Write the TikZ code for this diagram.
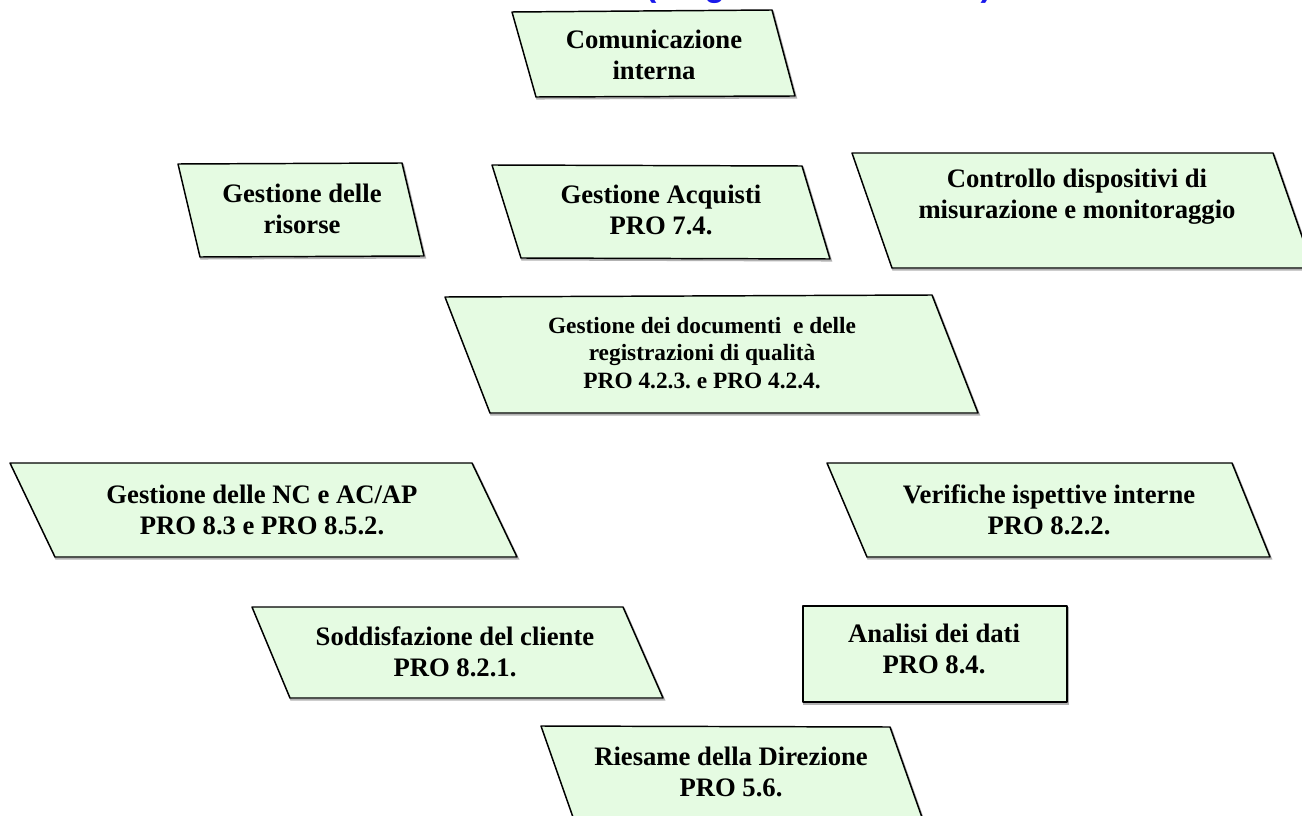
\documentclass[tikz,border=0pt]{standalone}
\usepackage{fontspec}
\setmainfont{Liberation Serif}
\setsansfont{Liberation Sans}
\definecolor{boxgreen}{RGB}{229,251,226}
\definecolor{titleblue}{RGB}{25,25,235}
\frenchspacing
\begin{document}
\begin{tikzpicture}[x=0.75pt,y=-0.75pt,
  procbox/.style={draw=black, line width=1.1pt, fill=boxgreen, line join=round,
    preaction={draw=black!30, line width=1.4pt, transform canvas={shift={(0.8pt,-1.2pt)}}}},
  proclabel/.style={font=\fontsize{20}{23.5}\selectfont\bfseries, align=center, inner sep=0pt},
  doclabel/.style={font=\fontsize{17.5}{20.8}\selectfont\bfseries, align=center, inner sep=0pt}]
\useasboundingbox (0,0) rectangle (1302,816);
\clip (0,0) rectangle (1302,816);

% heading, almost entirely above the page edge: only the descenders show
\node[anchor=south west, inner sep=0pt, text=titleblue,
      font=\sffamily\bfseries\fontsize{25}{30}\selectfont] (title) at (645,4) {(diagramma di flusso)};

% process shapes
\draw[procbox] (512,12) -- (772,10) -- (795,96) -- (536,97) -- cycle;
\draw[procbox] (178,164) -- (402,163) -- (424,256) -- (200,257) -- cycle;
\draw[procbox] (492,165) -- (802,166) -- (830,259) -- (521,258) -- cycle;
\draw[procbox] (852,153) -- (1273,153) -- (1313,268) -- (892,268) -- cycle;
\draw[procbox] (445,297) -- (932,295) -- (978,413) -- (490,413) -- cycle;
\draw[procbox] (10,463) -- (472,463) -- (517,557) -- (55,557) -- cycle;
\draw[procbox] (827,463) -- (1232,463) -- (1270,557) -- (867,557) -- cycle;
\draw[procbox] (252,607) -- (623,607) -- (663,698) -- (290,698) -- cycle;
\draw[procbox] (803,606) rectangle (1067,702);
\draw[procbox] (541,726) -- (890,727) -- (930,840) -- (581,840) -- cycle;

% labels
\node[proclabel] (com) at (654,55) {Comunicazione\\interna};
\node[proclabel] (ris) at (302,209) {Gestione delle\\risorse};
\node[proclabel] (acq) at (661,210) {Gestione Acquisti\\PRO 7.4.};
\node[proclabel] (con) at (1077,197) {Controllo dispositivi di\\misurazione e monitoraggio};
\node[doclabel] (doc) at (702,353) {Gestione dei documenti\ \ e delle\\registrazioni di qualità\\PRO 4.2.3. e PRO 4.2.4.};
\node[proclabel] (nc) at (262,510) {Gestione delle NC e AC/AP\\PRO 8.3 e PRO 8.5.2.};
\node[proclabel] (ver) at (1049,510) {Verifiche ispettive interne\\PRO 8.2.2.};
\node[proclabel] (sod) at (455,652) {Soddisfazione del cliente\\PRO 8.2.1.};
\node[proclabel] (ana) at (934,649) {Analisi dei dati\\PRO 8.4.};
\node[proclabel] (rie) at (731,772) {Riesame della Direzione\\PRO 5.6.};
\end{tikzpicture}
\end{document}
